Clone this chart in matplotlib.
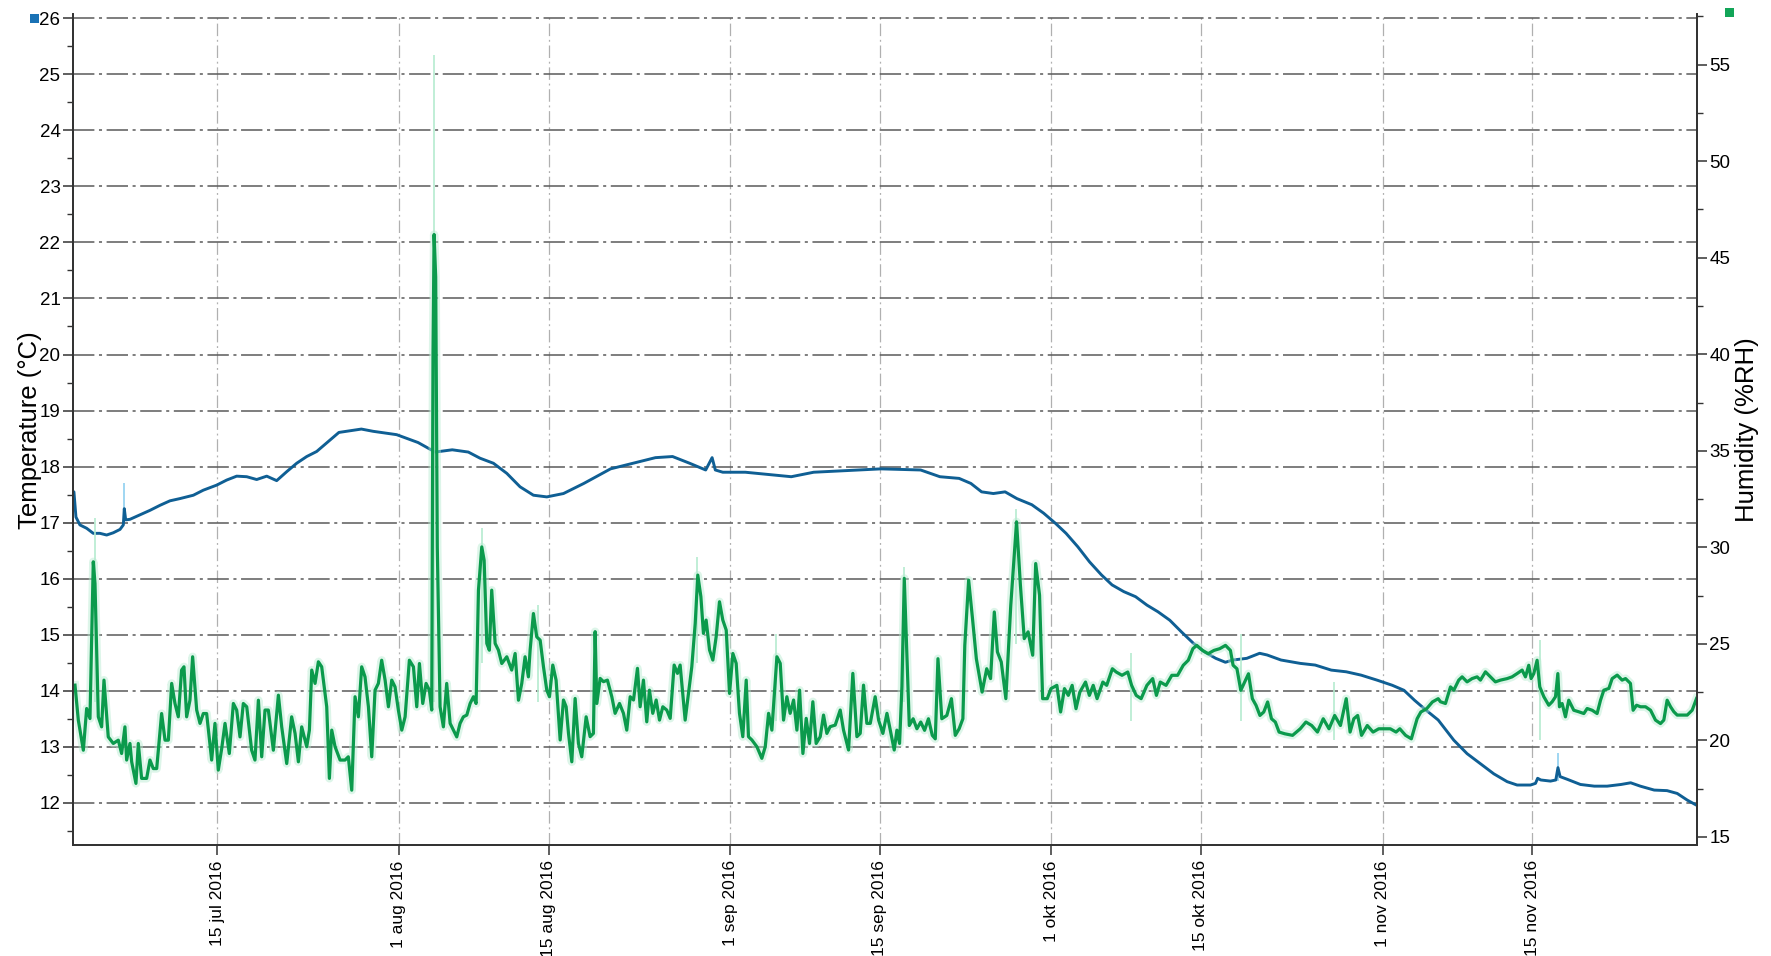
import numpy as np
import pandas as pd
import matplotlib
matplotlib.use("Agg")
import matplotlib.pyplot as plt
from matplotlib.patches import Rectangle
from matplotlib.ticker import MultipleLocator

plt.rcParams["font.family"] = ["Liberation Sans", "DejaVu Sans"]

START = pd.Timestamp("2016-07-01")

# temperature logger, days since 1 jul 2016
temp_days = [0.57, 0.62, 0.81, 1.18, 1.81, 2.43, 3.05, 3.68, 4.30, 4.93, 5.24, 5.33, 5.46, 5.86,
             6.80, 7.73, 8.67, 9.60, 10.54, 11.79, 12.72, 13.97, 14.90, 15.84, 16.78, 17.71, 18.65,
             19.58, 20.52, 21.45, 22.39, 23.32, 25.4, 27.5, 28.6, 30.8, 32.8, 34.4, 36.0, 37.5,
             38.6, 39.85, 41.10, 42.34, 43.59, 44.84, 46.4, 48.3, 50.8, 52.9, 55.0, 56.6, 58.2,
             59.7, 60.3, 60.6, 61.3, 63.4, 65.5, 67.7, 69.8, 71.9, 74.0, 76.1, 78.0, 79.8, 81.6,
             83.4, 84.5, 85.5, 86.6, 87.7, 88.8, 90.2, 91.3, 92.4, 93.4, 94.5, 95.6, 96.7, 97.7,
             98.8, 99.9, 100.96, 102.0, 103.1, 104.2, 105.3, 106.3, 107.4, 108.3, 109.0, 110.3,
             111.5, 112.2, 113.5, 115.3, 116.7, 118.2, 119.6, 121.0, 122.5, 123.9, 125.0, 126.0,
             127.1, 128.2, 129.66, 130.9, 132.15, 133.4, 134.65, 135.58, 136.83, 137.3, 137.5,
             137.8, 138.7, 139.2, 139.4, 139.6, 140.3, 141.5, 142.8, 144.0, 145.3, 146.2, 147.1,
             148.4, 149.6, 150.55, 151.5, 152.36]
temp_vals = [17.55, 17.55, 17.10, 16.96, 16.90, 16.81, 16.81, 16.78, 16.82, 16.88, 16.96, 17.25,
             17.05, 17.06, 17.14, 17.22, 17.31, 17.39, 17.43, 17.49, 17.58, 17.67, 17.76, 17.83,
             17.82, 17.77, 17.83, 17.75, 17.91, 18.06, 18.18, 18.27, 18.61, 18.67, 18.63, 18.57,
             18.43, 18.26, 18.30, 18.26, 18.15, 18.06, 17.88, 17.64, 17.49, 17.46, 17.52, 17.70,
             17.96, 18.06, 18.16, 18.18, 18.06, 17.94, 18.16, 17.94, 17.90, 17.90, 17.86, 17.82,
             17.90, 17.92, 17.94, 17.96, 17.95, 17.94, 17.82, 17.79, 17.70, 17.55, 17.52, 17.55,
             17.43, 17.32, 17.17, 16.99, 16.81, 16.57, 16.30, 16.07, 15.89, 15.77, 15.68, 15.53,
             15.41, 15.26, 15.05, 14.85, 14.70, 14.58, 14.51, 14.55, 14.58, 14.67, 14.64, 14.55,
             14.49, 14.46, 14.37, 14.34, 14.28, 14.19, 14.10, 14.01, 13.83, 13.65, 13.48, 13.12,
             12.88, 12.70, 12.52, 12.38, 12.32, 12.32, 12.35, 12.44, 12.41, 12.39, 12.41, 12.63,
             12.47, 12.42, 12.33, 12.30, 12.30, 12.33, 12.36, 12.30, 12.23, 12.22, 12.17, 12.05,
             11.96]

# humidity logger, days since 1 jul 2016
hum_days = [0.72, 1.03, 1.50, 1.81, 2.12, 2.43, 2.59, 2.90, 3.21, 3.43, 3.83, 4.30, 4.77, 5.08,
            5.39, 5.55, 5.86, 6.02, 6.42, 6.64, 6.95, 7.42, 7.73, 8.04, 8.36, 8.82, 9.14, 9.45,
            9.76, 10.07, 10.38, 10.69, 10.91, 11.16, 11.47, 11.72, 12.10, 12.41, 12.72, 13.03,
            13.50, 13.81, 14.12, 14.44, 14.75, 15.15, 15.53, 15.84, 16.15, 16.46, 16.78, 17.24,
            17.55, 17.87, 18.18, 18.49, 18.80, 19.27, 19.74, 20.05, 20.52, 20.98, 21.30, 21.61,
            21.92, 22.39, 22.64, 22.86, 23.17, 23.48, 23.79, 24.26, 24.51, 24.73, 25.04, 25.51,
            25.97, 26.28, 26.60, 26.91, 27.22, 27.53, 27.84, 28.16, 28.47, 28.78, 29.09, 29.40,
            29.72, 30.03, 30.34, 30.65, 30.96, 31.28, 31.59, 31.99, 32.37, 32.68, 32.93, 33.24,
            33.55, 33.86, 34.08, 34.20, 34.30, 34.45, 34.60, 34.86, 35.17, 35.48, 35.80, 36.11,
            36.42, 36.73, 37.04, 37.36, 37.67, 37.98, 38.23, 38.45, 38.76, 38.98, 39.23, 39.47,
            39.69, 40.01, 40.32, 40.63, 41.10, 41.56, 41.88, 42.19, 42.50, 42.81, 43.12, 43.28,
            43.59, 43.90, 44.22, 44.53, 44.84, 45.09, 45.40, 45.71, 46.09, 46.40, 46.65, 46.87,
            47.18, 47.49, 47.80, 48.11, 48.52, 48.89, 49.20, 49.36, 49.52, 49.83, 50.14, 50.51,
            50.92, 51.23, 51.64, 52.01, 52.32, 52.64, 52.95, 53.32, 53.57, 53.88, 54.19, 54.44,
            54.75, 55.07, 55.38, 55.69, 56.06, 56.38, 56.75, 57.06, 57.31, 57.78, 58.40, 58.72,
            58.96, 59.25, 59.49, 59.74, 60.06, 60.37, 60.68, 60.99, 61.30, 61.62, 61.93, 62.24,
            62.55, 62.86, 63.17, 63.49, 63.70, 64.02, 64.49, 64.95, 65.27, 65.58, 65.89, 66.36,
            66.67, 66.98, 67.29, 67.60, 67.92, 68.23, 68.48, 68.79, 69.10, 69.41, 69.72, 70.03,
            70.41, 70.72, 71.03, 71.34, 71.81, 72.28, 72.59, 73.06, 73.46, 73.84, 74.15, 74.46,
            74.77, 75.09, 75.55, 75.87, 76.27, 76.65, 77.02, 77.33, 77.58, 77.83, 78.05, 78.27,
            78.52, 78.74, 79.10, 79.45, 79.81, 80.17, 80.53, 80.89, 81.17, 81.42, 81.78, 82.25,
            82.68, 83.04, 83.40, 83.75, 83.93, 84.29, 84.65, 85.01, 85.55, 85.98, 86.34, 86.69,
            86.98, 87.34, 87.77, 88.23, 88.77, 89.13, 89.49, 89.85, 90.28, 90.56, 90.92, 91.21,
            91.64, 91.99, 92.54, 92.89, 93.25, 93.61, 93.97, 94.33, 94.69, 95.22, 95.58, 95.94,
            96.30, 96.84, 97.20, 97.73, 98.09, 98.63, 99.17, 99.53, 99.96, 100.42, 100.96, 101.50,
            101.85, 102.21, 102.75, 103.29, 103.83, 104.36, 104.83, 105.26, 105.62, 106.16,
            106.69, 107.23, 107.77, 108.31, 108.77, 109.02, 109.38, 109.74, 110.10, 110.46,
            110.82, 111.17, 111.53, 111.89, 112.25, 112.61, 112.97, 113.32, 113.86, 114.58,
            115.30, 115.83, 116.37, 116.91, 117.45, 117.99, 118.52, 119.06, 119.60, 119.96,
            120.31, 120.67, 121.03, 121.57, 122.11, 122.64, 123.18, 123.72, 124.26, 124.61,
            125.15, 125.69, 126.23, 126.58, 127.12, 127.66, 128.20, 128.41, 128.88, 129.35,
            129.66, 130.12, 130.44, 130.90, 131.37, 131.84, 132.15, 132.62, 133.09, 133.55,
            134.02, 134.65, 135.11, 135.58, 136.05, 136.36, 136.67, 136.89, 137.14, 137.45,
            137.70, 138.08, 138.54, 138.86, 139.17, 139.39, 139.54, 139.79, 140.10, 140.41,
            140.88, 141.35, 141.82, 142.13, 142.60, 143.06, 143.38, 143.69, 144.16, 144.47,
            144.94, 145.40, 145.72, 146.18, 146.43, 146.75, 147.12, 147.59, 148.06, 148.52,
            148.99, 149.30, 149.61, 149.93, 150.24, 150.55, 151.02, 151.49, 151.95, 152.36]
hum_vals = [22.86, 21.05, 19.49, 21.65, 21.13, 29.25, 28.12, 21.22, 20.70, 23.12, 20.18, 19.84,
            20.01, 19.32, 20.70, 18.98, 19.84, 18.89, 17.77, 19.84, 18.03, 18.03, 18.98, 18.54,
            18.54, 21.39, 20.01, 20.01, 22.95, 21.91, 21.22, 23.64, 23.81, 21.22, 22.08, 24.33,
            21.57, 20.88, 21.39, 21.39, 18.98, 20.88, 18.46, 19.58, 20.88, 19.32, 21.91, 21.57,
            20.18, 21.91, 21.74, 19.49, 18.98, 22.08, 19.15, 21.57, 21.57, 19.49, 22.34, 20.70,
            18.80, 21.22, 20.36, 18.89, 20.70, 19.67, 20.53, 23.64, 22.95, 24.07, 23.81, 21.74,
            18.03, 20.53, 19.67, 18.98, 18.98, 19.15, 17.42, 22.26, 21.22, 23.81, 23.29, 21.74,
            19.15, 22.60, 22.95, 24.15, 23.12, 21.74, 23.12, 22.77, 21.57, 20.53, 21.22, 24.15,
            23.81, 21.74, 23.98, 21.91, 22.95, 22.60, 21.57, 40.0, 46.2, 44.0, 30.0, 21.74, 20.70,
            22.95, 20.88, 20.53, 20.18, 20.88, 21.22, 21.31, 21.91, 22.26, 21.91, 27.78, 30.02,
            29.33, 25.02, 24.67, 27.78, 25.02, 24.67, 23.98, 24.33, 23.64, 24.50, 22.08, 22.95,
            24.33, 23.29, 24.67, 26.57, 25.36, 25.19, 23.81, 22.60, 22.26, 23.90, 23.12, 20.02,
            22.09, 21.74, 20.36, 18.89, 22.17, 19.84, 19.15, 21.22, 20.19, 20.36, 25.63, 21.91,
            23.21, 23.04, 23.12, 22.26, 21.40, 21.91, 21.40, 20.53, 22.26, 22.09, 23.73, 21.74,
            23.12, 20.96, 22.60, 21.40, 22.09, 21.05, 21.74, 21.57, 21.14, 23.90, 23.47, 23.90,
            21.05, 23.81, 26.06, 28.56, 27.44, 25.54, 26.23, 24.68, 24.16, 25.37, 27.18, 26.23,
            25.71, 22.43, 24.50, 23.99, 21.40, 20.19, 23.12, 20.19, 20.02, 19.67, 19.07, 19.67,
            21.40, 20.53, 24.33, 23.99, 21.05, 22.26, 21.40, 22.09, 20.53, 22.60, 19.32, 21.14,
            19.84, 22.00, 19.84, 20.19, 21.31, 20.36, 20.71, 20.79, 21.57, 20.53, 19.50, 23.47,
            20.19, 20.36, 22.86, 20.88, 20.88, 22.26, 21.05, 20.36, 21.40, 20.36, 19.50, 20.53,
            19.84, 22.78, 28.39, 24.33, 20.77, 21.12, 20.60, 20.95, 20.52, 21.12, 20.26, 20.08,
            24.23, 21.12, 21.29, 22.16, 20.26, 20.60, 21.12, 24.92, 28.30, 26.31, 24.23, 22.50,
            23.71, 23.20, 26.65, 24.58, 24.06, 22.16, 27.00, 31.32, 28.04, 25.27, 25.62, 24.41,
            29.16, 27.52, 22.16, 22.16, 22.68, 22.85, 21.47, 22.68, 22.33, 22.85, 21.64, 22.50,
            23.02, 22.33, 22.85, 22.16, 23.02, 22.85, 23.71, 23.54, 23.37, 23.54, 22.85, 22.33,
            22.16, 22.85, 23.20, 22.33, 23.02, 22.85, 23.37, 23.37, 23.89, 24.15, 24.75, 24.92,
            24.66, 24.49, 24.66, 24.75, 24.92, 24.66, 23.89, 23.71, 22.59, 23.02, 23.45, 22.16,
            21.81, 21.29, 21.47, 21.99, 21.12, 20.95, 20.43, 20.34, 20.26, 20.60, 20.95, 20.77,
            20.43, 21.12, 20.60, 21.29, 20.77, 22.16, 20.43, 21.12, 21.29, 20.26, 20.77, 20.43,
            20.60, 20.60, 20.60, 20.43, 20.60, 20.26, 20.08, 21.12, 21.47, 21.64, 21.99, 22.16,
            22.00, 21.91, 22.77, 22.60, 23.12, 23.29, 23.03, 23.20, 23.29, 23.12, 23.55, 23.29,
            23.03, 23.12, 23.20, 23.29, 23.46, 23.64, 23.29, 23.89, 23.20, 23.46, 24.15, 22.77,
            22.26, 21.82, 22.00, 22.26, 23.46, 21.74, 21.91, 21.22, 22.08, 21.56, 21.48, 21.39,
            21.65, 21.56, 21.39, 22.08, 22.60, 22.69, 23.20, 23.38, 23.12, 23.20, 22.95, 21.56,
            21.82, 21.74, 21.74, 21.56, 21.05, 20.87, 21.05, 22.08, 21.74, 21.48, 21.31, 21.31,
            21.31, 21.56, 22.17]

# short raw readings that the smoothed curves leave out
temp_spike_days = [0.55, 5.33, 139.4]
temp_spike_low = [17.5, 17.0, 12.4]
temp_spike_high = [25.4, 17.7, 12.9]
hum_spike_days = [2.6, 34.3, 38.8, 44.0, 58.9, 66.3, 78.2, 88.7, 99.5, 109.8, 118.5, 137.7]
hum_spike_low = [22.0, 22.0, 24.0, 22.0, 24.0, 21.0, 22.0, 25.0, 21.0, 21.0, 20.0, 20.0]
hum_spike_high = [31.5, 55.5, 31.0, 27.0, 29.5, 25.5, 29.0, 32.0, 24.5, 25.5, 23.0, 25.2]

tick_days = [14, 31, 45, 62, 76, 92, 106, 123, 137]
tick_labels = ["15 jul 2016", "1 aug 2016", "15 aug 2016", "1 sep 2016", "15 sep 2016",
               "1 okt 2016", "15 okt 2016", "1 nov 2016", "15 nov 2016"]


def to_dates(days):
    return START + pd.to_timedelta(np.asarray(days, dtype=float), unit="D")


BLUE = "#0f5f94"
GREEN = "#0b9a4c"
LIGHT_BLUE = "#8fd0f0"
LIGHT_GREEN = "#b5ebcf"

fig = plt.figure(figsize=(17.71, 9.56), dpi=100)
ax = fig.add_axes([0.0412, 0.1161, 0.917, 0.869])
ax2 = ax.twinx()

# grid: dash-dot horizontal lines at whole degrees, lighter verticals at the date ticks
ax.set_axisbelow(True)
ax.grid(axis="y", which="major", linestyle=(0, (14, 3, 2, 3)), color="#5a5a5a", linewidth=1.1)
ax.grid(axis="x", which="major", linestyle=(0, (10, 3, 1.5, 3)), color="#b0b0b0", linewidth=0.9)

# faint raw readings behind the curves
ax.vlines(to_dates(temp_spike_days), temp_spike_low, temp_spike_high, color=LIGHT_BLUE, linewidth=1.2)
ax2.vlines(to_dates(hum_spike_days), hum_spike_low, hum_spike_high, color=LIGHT_GREEN, linewidth=1.2)
ax2.plot(to_dates(hum_days), hum_vals, color=LIGHT_GREEN, linewidth=6, alpha=0.45,
         solid_joinstyle="round")

ax.plot(to_dates(temp_days), temp_vals, color=BLUE, linewidth=2.1, zorder=3)
ax2.plot(to_dates(hum_days), hum_vals, color=GREEN, linewidth=2.3, solid_joinstyle="round")

ax.set_xlim(START + pd.Timedelta(days=0.53), START + pd.Timedelta(days=152.4))
ax.set_ylim(11.25, 26.07)
ax2.set_ylim(14.58, 57.61)

ax.set_xticks(to_dates(tick_days))
ax.set_xticklabels(tick_labels, rotation=90, fontsize=12.5)
ax.yaxis.set_major_locator(MultipleLocator(1))
ax.yaxis.set_minor_locator(MultipleLocator(0.5))
ax2.yaxis.set_major_locator(MultipleLocator(5))
ax2.yaxis.set_minor_locator(MultipleLocator(2.5))
ax.set_yticks(np.arange(12, 27, 1))

ax.tick_params(axis="y", which="major", direction="out", length=7, width=1.1,
               color="#333333", labelsize=13.5, pad=2)
ax.tick_params(axis="y", which="minor", direction="out", length=4, width=1, color="#333333")
ax.tick_params(axis="x", which="major", direction="out", length=7, width=1.1,
               color="#333333", labelsize=12.5, pad=4)
ax2.tick_params(axis="y", which="major", direction="out", length=7, width=1.1,
                color="#333333", labelsize=13.5, pad=2)
ax2.tick_params(axis="y", which="minor", direction="out", length=4, width=1, color="#333333")

for a in (ax, ax2):
    a.spines["top"].set_visible(False)
    for side in ("left", "right", "bottom"):
        a.spines[side].set_color("#333333")
        a.spines[side].set_linewidth(1.3)

ax.set_ylabel("Temperature (°C)", fontsize=18.5)
ax.yaxis.set_label_coords(-0.019, 0.5)
ax2.set_ylabel("Humidity (%RH)", fontsize=18.5, rotation=90)
ax2.yaxis.set_label_coords(1.0237, 0.5)

# series markers in the corners
fig.patches.append(Rectangle((0.0169, 0.9759), 0.0051, 0.0094, transform=fig.transFigure,
                             facecolor="#1a72b5", edgecolor="none"))
fig.patches.append(Rectangle((0.974, 0.9822), 0.0051, 0.0094, transform=fig.transFigure,
                             facecolor="#12a558", edgecolor="none"))

fig.savefig("out.png", dpi=100)
